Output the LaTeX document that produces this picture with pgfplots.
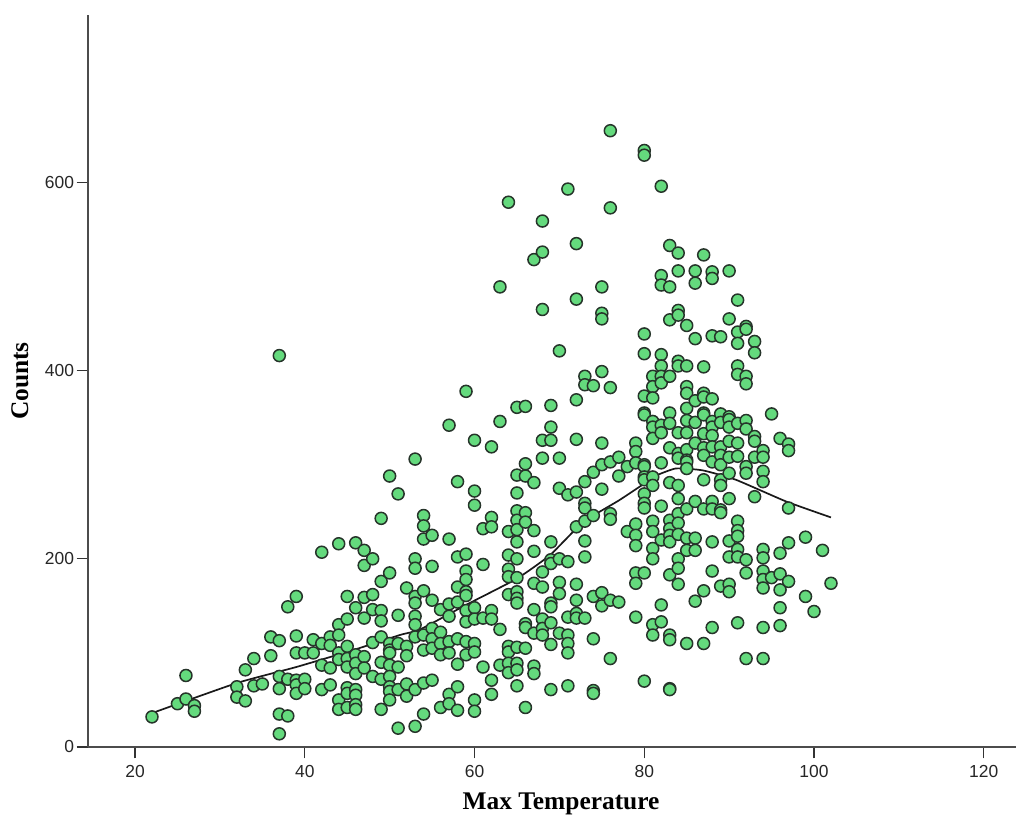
\documentclass[border=0pt]{standalone}
\usepackage{fontspec}
\setmainfont{Liberation Sans}
\newfontfamily\labelfont{Liberation Serif}
\usepackage{pgfplots}
\pgfplotsset{compat=1.18}
\definecolor{ptgreen}{HTML}{64DA7D}
\definecolor{ptedge}{HTML}{26342A}
\begin{document}
\begin{tikzpicture}[x=1bp,y=1bp]
\useasboundingbox (0,0) rectangle (1016,816);
\begin{axis}[
  at={(88bp,69bp)},anchor=south west,
  scale only axis,width=928bp,height=732bp,
  xmin=14.46,xmax=123.8,ymin=0,ymax=778,
  axis x line=bottom,axis y line=left,
  axis line style={-,color=black!70,line width=1.2bp},
  xtick={20,40,60,80,100,120},ytick={0,200,400,600},
  tick style={color=black!80,line width=1.1bp},
  tick align=outside,major tick length=11.5bp,
  /pgf/number format/assume math mode=true,
  tick label style={font=\fontsize{17.5}{19}\selectfont,color=black!85},
  xticklabel style={yshift=-3bp},
  yticklabel style={xshift=1bp},
  xlabel={\labelfont\bfseries\fontsize{25.5}{28}\selectfont Max Temperature},
  ylabel={\labelfont\bfseries\fontsize{25.5}{28}\selectfont Counts},
  xlabel style={at={(axis description cs:0.5,0)},anchor=base,yshift=-62.5bp,xshift=9bp},
  ylabel style={at={(axis description cs:0,0.5)},anchor=base,yshift=60bp,xshift=0bp},
  clip=false,
]
\addplot[only marks,mark=*,mark size=6bp,
  mark options={fill=ptgreen,draw=ptedge,line width=1.5bp}] table[row sep=\\]{
x y\\
22 32\\25 46\\26 51\\26 76\\27 44\\27 38\\32 64\\32 53\\33 49\\33 82\\34 94\\34 65\\35 67\\36 97\\36 117\\
37 113\\37 75\\37 62\\37 35\\37 14\\37 416\\38 149\\38 72\\38 33\\39 160\\39 118\\39 100\\39 71\\39 66\\39 57\\
40 100\\40 72\\40 62\\41 114\\41 100\\42 207\\42 110\\42 87\\42 61\\43 117\\43 108\\43 84\\43 66\\
44 216\\44 130\\44 119\\44 100\\44 93\\44 50\\44 40\\45 160\\45 136\\45 107\\45 94\\45 85\\45 63\\45 57\\45 42\\
46 217\\46 148\\46 98\\46 89\\46 78\\46 61\\46 55\\46 45\\46 40\\47 209\\47 193\\47 159\\47 137\\47 96\\47 84\\
48 200\\48 162\\48 146\\48 111\\48 75\\49 243\\49 176\\49 145\\49 134\\49 117\\49 90\\49 72\\49 40\\
50 288\\50 185\\50 110\\50 103\\50 100\\50 87\\50 75\\50 64\\50 59\\50 50\\51 269\\51 140\\51 110\\51 85\\51 61\\51 20\\
52 169\\52 107\\52 97\\52 67\\52 54\\53 306\\53 200\\53 190\\53 160\\53 153\\53 139\\53 130\\53 117\\53 61\\53 22\\
54 246\\54 235\\54 221\\54 166\\54 119\\54 103\\54 68\\54 35\\55 225\\55 192\\55 156\\55 126\\55 115\\55 105\\55 71\\
56 146\\56 122\\56 110\\56 98\\56 42\\57 342\\57 221\\57 152\\57 139\\57 112\\57 100\\57 56\\57 46\\
58 282\\58 202\\58 170\\58 154\\58 115\\58 88\\58 64\\58 39\\59 378\\59 205\\59 187\\59 178\\59 165\\59 161\\59 145\\59 133\\59 112\\59 98\\
60 326\\60 272\\60 257\\60 148\\60 136\\60 110\\60 101\\60 50\\60 38\\61 232\\61 194\\61 137\\61 85\\
62 319\\62 244\\62 234\\62 145\\62 136\\62 71\\62 56\\63 489\\63 346\\63 125\\63 87\\
64 579\\64 229\\64 204\\64 189\\64 181\\64 162\\64 107\\64 101\\64 89\\64 79\\
65 361\\65 289\\65 270\\65 251\\65 241\\65 231\\65 218\\65 200\\65 180\\65 165\\65 158\\65 153\\65 106\\65 89\\65 82\\65 65\\
66 362\\66 301\\66 288\\66 249\\66 239\\66 131\\66 127\\66 105\\66 42\\67 518\\67 281\\67 230\\67 208\\67 174\\67 146\\67 121\\67 86\\67 78\\
68 559\\68 526\\68 465\\68 326\\68 307\\68 186\\68 170\\68 136\\68 126\\68 119\\
69 363\\69 340\\69 326\\69 218\\69 199\\69 195\\69 153\\69 149\\69 132\\69 109\\69 61\\
70 421\\70 307\\70 275\\70 200\\70 175\\70 163\\70 121\\71 593\\71 268\\71 197\\71 138\\71 119\\71 110\\71 100\\71 65\\
72 535\\72 476\\72 369\\72 327\\72 271\\72 234\\72 173\\72 156\\72 142\\72 137\\
73 394\\73 385\\73 282\\73 259\\73 254\\73 240\\73 219\\73 202\\73 137\\74 384\\74 292\\74 246\\74 160\\74 115\\74 60\\74 57\\
75 489\\75 461\\75 455\\75 399\\75 323\\75 300\\75 274\\75 164\\75 150\\76 655\\76 573\\76 382\\76 303\\76 248\\76 242\\76 156\\76 94\\
77 308\\77 288\\77 154\\78 298\\78 229\\79 323\\79 314\\79 302\\79 237\\79 225\\79 214\\79 185\\79 174\\79 138\\
80 634\\80 629\\80 439\\80 418\\80 373\\80 355\\80 353\\80 300\\80 298\\80 287\\80 284\\80 269\\80 259\\80 254\\80 185\\80 70\\
81 394\\81 383\\81 371\\81 346\\81 340\\81 328\\81 287\\81 278\\81 240\\81 229\\81 211\\81 200\\81 130\\81 119\\
82 596\\82 501\\82 491\\82 417\\82 405\\82 394\\82 387\\82 342\\82 334\\82 302\\82 256\\82 220\\82 151\\82 133\\
83 533\\83 489\\83 454\\83 394\\83 355\\83 344\\83 318\\83 281\\83 241\\83 232\\83 225\\83 218\\83 183\\83 119\\83 114\\83 62\\83 61\\
84 525\\84 506\\84 464\\84 459\\84 410\\84 405\\84 334\\84 312\\84 307\\84 278\\84 264\\84 248\\84 238\\84 226\\84 200\\84 190\\84 173\\
85 448\\85 405\\85 383\\85 376\\85 360\\85 347\\85 334\\85 316\\85 305\\85 303\\85 296\\85 253\\85 222\\85 209\\85 110\\
86 506\\86 493\\86 434\\86 368\\86 345\\86 323\\86 261\\86 222\\86 209\\86 155\\
87 523\\87 404\\87 376\\87 372\\87 355\\87 353\\87 333\\87 318\\87 310\\87 284\\87 253\\87 166\\87 110\\
88 505\\88 498\\88 437\\88 370\\88 346\\88 340\\88 331\\88 319\\88 303\\88 261\\88 253\\88 218\\88 187\\88 127\\
89 436\\89 354\\89 345\\89 319\\89 310\\89 300\\89 284\\89 278\\89 252\\89 249\\89 171\\
90 506\\90 455\\90 351\\90 348\\90 340\\90 325\\90 308\\90 291\\90 264\\90 219\\90 202\\90 173\\90 165\\
91 475\\91 441\\91 429\\91 405\\91 396\\91 344\\91 323\\91 309\\91 240\\91 230\\91 224\\91 210\\91 202\\91 132\\
92 447\\92 444\\92 394\\92 386\\92 347\\92 338\\92 298\\92 291\\92 199\\92 185\\92 94\\93 431\\93 419\\93 330\\93 325\\93 308\\93 266\\
94 315\\94 308\\94 293\\94 282\\94 210\\94 201\\94 187\\94 178\\94 169\\94 127\\94 94\\95 354\\95 180\\
96 328\\96 206\\96 184\\96 167\\96 148\\96 129\\97 322\\97 315\\97 254\\97 217\\97 176\\99 223\\99 160\\100 144\\101 209\\102 174\\
};
\addplot[no marks,smooth,tension=0.3,color=black!90,line width=1.7bp] coordinates {
(22,36)(32,68)(39,85)(45.7,103)(51.2,119)(53.6,125)(59,151)(65,179)(68.9,204)(72.8,239)(77,262)(80,280)(81,287)(83.7,296)(86.9,294)(90.8,284)(96.7,261)(102,244)};
\end{axis}
\end{tikzpicture}
\end{document}
